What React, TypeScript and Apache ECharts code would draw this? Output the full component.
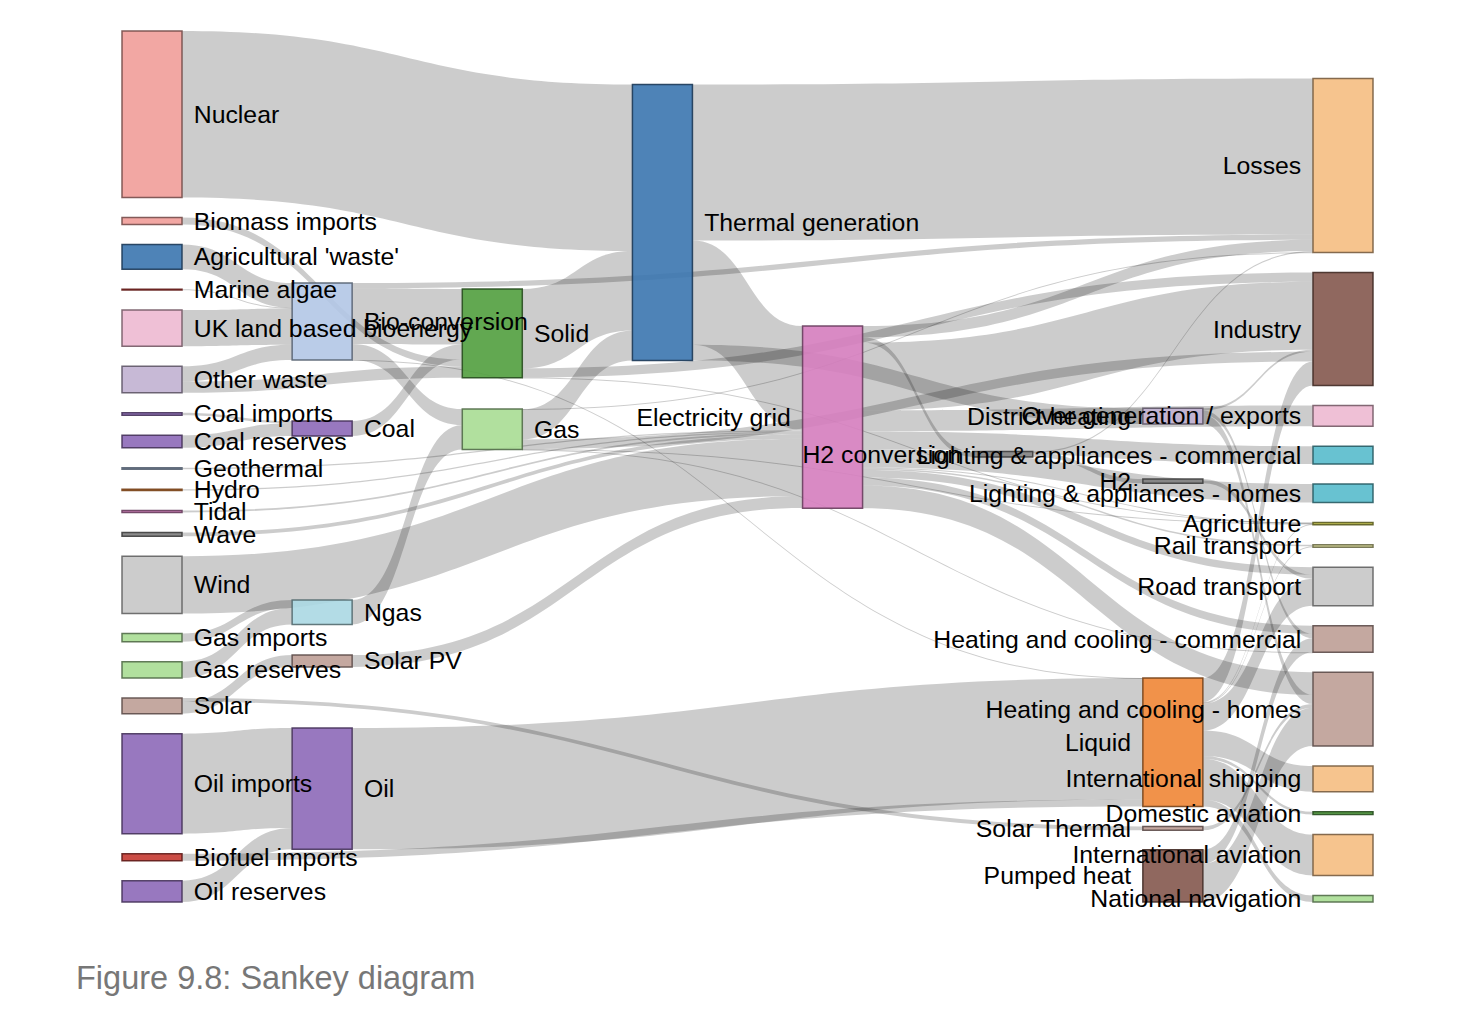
import React, { useEffect, useRef } from "react";
import * as echarts from "echarts";

// ---- data (UK energy flows, TWh) ----
const nodeNames: string[] = [
  "Agricultural 'waste'", "Bio-conversion", "Liquid", "Losses", "Solid", "Gas",
  "Biofuel imports", "Biomass imports", "Coal imports", "Coal", "Coal reserves",
  "District heating", "Industry", "Heating and cooling - commercial",
  "Heating and cooling - homes", "Electricity grid", "Over generation / exports",
  "H2 conversion", "Road transport", "Agriculture", "Rail transport",
  "Lighting & appliances - commercial", "Lighting & appliances - homes",
  "Gas imports", "Ngas", "Gas reserves", "Thermal generation", "Geothermal", "H2",
  "Hydro", "International shipping", "Domestic aviation", "International aviation",
  "National navigation", "Marine algae", "Nuclear", "Oil imports", "Oil",
  "Oil reserves", "Other waste", "Pumped heat", "Solar PV", "Solar Thermal",
  "Solar", "Tidal", "UK land based bioenergy", "Wave", "Wind",
];

// flows: source index -> target index, value
const linkSources: number[] = [
  35, 7, 0, 34, 45, 39, 39, 8, 10, 27, 29, 44, 46, 47, 23, 25, 43, 43, 36, 6, 38,
  26, 26, 26, 1, 1, 1, 1, 9, 24, 41, 37, 4, 4, 4, 5, 5, 5, 5, 5,
  15, 15, 15, 15, 15, 15, 15, 15, 15, 15, 15, 17, 17, 11, 11, 11, 28,
  2, 2, 2, 2, 2, 2, 2, 2, 42, 40, 40,
];
const linkTargets: number[] = [
  26, 4, 1, 1, 1, 1, 4, 9, 9, 15, 15, 15, 15, 15, 24, 24, 41, 42, 37, 2, 37,
  3, 15, 11, 3, 4, 5, 2, 4, 5, 15, 2, 26, 12, 19, 3, 26, 12, 19, 13,
  3, 12, 16, 21, 17, 22, 19, 20, 18, 13, 14, 3, 28, 12, 13, 14, 18,
  12, 19, 20, 18, 30, 31, 32, 33, 14, 13, 14,
];
const linkValues: number[] = [
  839.978, 35, 124.729, 4.375, 182.01, 77.81, 56.587, 11.606, 63.965, 7.013, 6.995,
  9.452, 19.013, 289.366, 40.719, 82.233, 59.901, 19.263, 504.287, 35, 107.703,
  787.129, 525.531, 79.329, 26.862, 280.322, 81.144, 0.597, 75.571, 122.952, 59.901,
  611.99, 400.12, 46.477, 0.882, 1.401, 151.891, 48.58, 2.096, 0.129,
  56.691, 342.165, 104.453, 90.008, 27.14, 93.494, 4.412, 7.863, 37.797, 40.858,
  113.726, 6.242, 20.897, 10.639, 22.505, 46.184, 20.897,
  121.066, 3.64, 4.413, 135.835, 128.69, 14.458, 206.267, 33.218, 19.263, 70.672,
  193.026,
];

const figureTitle = "Figure 9.8: Sankey diagram";

// ---- layout (as drawn in the figure) ----
// column of each node
const nodeColumns: number[] = [
  0, 1, 6, 7, 2, 2, 0, 0, 0, 1, 0, 6, 7, 7, 7, 4, 7, 5, 7, 7, 7, 7, 7, 0, 1, 0, 3, 0, 6,
  0, 7, 7, 7, 7, 0, 0, 0, 1, 0, 0, 6, 1, 6, 0, 0, 0, 0, 0,
];
// top edge of each node on the page (px)
const nodeTops: number[] = [
  244.5, 283, 678, 78.45, 289, 409, 853.7, 217.56, 412.84, 421, 435.14, 408.3, 272.62,
  625.72, 672.32, 326, 405.43, 451.5, 567.15, 522.53, 544.72, 446.14, 483.99, 633.62,
  600, 661.69, 84.5, 467.82, 479, 489.21, 766.12, 811.64, 834.51, 895.41, 289.23, 31,
  733.7, 728, 880.64, 366.19, 849.7, 655, 826.5, 698, 510.6, 310.1, 532.47, 556.24,
];
// stacking order used for ordering the flows at each node
const stackOrder: string[] = [
  "Nuclear", "Geothermal", "Hydro", "Tidal", "Wave", "Wind", "Biomass imports",
  "Agricultural 'waste'", "Marine algae", "UK land based bioenergy", "Other waste",
  "Coal imports", "Coal reserves", "Gas imports", "Gas reserves", "Solar", "Oil imports",
  "Biofuel imports", "Oil reserves",
  "Bio-conversion", "Ngas", "Coal", "Oil", "Solar PV",
  "Solid", "Gas", "Thermal generation", "Electricity grid", "H2 conversion",
  "District heating", "H2", "Solar Thermal", "Pumped heat", "Liquid",
  "Losses", "Industry", "Over generation / exports", "Lighting & appliances - commercial",
  "Lighting & appliances - homes", "Agriculture", "Rail transport", "Road transport",
  "Heating and cooling - commercial", "Heating and cooling - homes",
  "International shipping", "Domestic aviation", "International aviation",
  "National navigation",
];

const LEFT = 122;
const TOP = 31;
const WIDTH = 1251;
const HEIGHT = 871;

// ---- styling ----
const category20 = [
  "#1f77b4", "#aec7e8", "#ff7f0e", "#ffbb78", "#2ca02c", "#98df8a", "#d62728", "#ff9896",
  "#9467bd", "#c5b0d5", "#8c564b", "#c49c94", "#e377c2", "#f7b6d2", "#7f7f7f", "#c7c7c7",
  "#bcbd22", "#dbdb8d", "#17becf", "#9edae5",
];

function hexToRgb(hex: string): number[] {
  const n = parseInt(hex.slice(1), 16);
  return [(n >> 16) & 255, (n >> 8) & 255, n & 255];
}
const toLin = (c: number) => {
  const v = c / 255;
  return v <= 0.04045 ? v / 12.92 : Math.pow((v + 0.055) / 1.055, 2.4);
};
const fromLin = (v: number) => {
  const x = Math.max(0, Math.min(1, v));
  const s = x <= 0.0031308 ? x * 12.92 : 1.055 * Math.pow(x, 1 / 2.4) - 0.055;
  return Math.round(s * 255);
};
// tone matching of the reference rendering (display-P3 encoded screenshot)
function tone(rgb: number[]): string {
  const [r, g, b] = rgb.map(toLin);
  const R = 0.8224621 * r + 0.177538 * g;
  const G = 0.0331941 * r + 0.9668058 * g;
  const B = 0.0170827 * r + 0.0723974 * g + 0.9105199 * b;
  return `rgb(${fromLin(R)},${fromLin(G)},${fromLin(B)})`;
}
function darker(rgb: number[], k: number): number[] {
  const f = Math.pow(0.7, k);
  return rgb.map((c) => Math.round(c * f));
}

const FONT = "'Liberation Sans', Arial, Helvetica, sans-serif";

export default function App() {
  const ref = useRef<HTMLDivElement>(null);

  useEffect(() => {
    if (!ref.current) return;
    const chart = echarts.init(ref.current, undefined, { renderer: "svg" });

    // colour by the first word of the node name, cycling through category20
    const domain: string[] = [];
    const colorOf = (name: string) => {
      const key = name.replace(/ .*/, "");
      let i = domain.indexOf(key);
      if (i < 0) {
        domain.push(key);
        i = domain.length - 1;
      }
      return category20[i % category20.length];
    };
    const colors = nodeNames.map(colorOf);

    const maxCol = Math.max(...nodeColumns);
    const nodes = stackOrder.map((name) => {
      const i = nodeNames.indexOf(name);
      const rgb = hexToRgb(colors[i]);
      const rightSide = nodeColumns[i] > maxCol / 2;
      return {
        name,
        depth: nodeColumns[i],
        localY: (nodeTops[i] - TOP) / HEIGHT,
        itemStyle: {
          color: tone(rgb),
          borderColor: tone(darker(rgb, 2)),
          borderWidth: 1.5,
          opacity: 0.9,
        },
        label: { position: rightSide ? "left" : "right" },
      };
    });

    const links = linkValues.map((v, i) => ({
      source: nodeNames[linkSources[i]],
      target: nodeNames[linkTargets[i]],
      value: v,
    }));

    chart.setOption({
      animation: false,
      title: {
        text: figureTitle,
        left: 76,
        top: 961,
        padding: 0,
        textStyle: { color: "#777777", fontSize: 32.5, fontWeight: "normal", fontFamily: FONT },
      },
      series: [
        {
          type: "sankey",
          left: LEFT,
          top: TOP,
          width: WIDTH,
          height: HEIGHT,
          nodeWidth: 60,
          nodeGap: 20,
          nodeAlign: "left",
          layoutIterations: 0,
          draggable: false,
          emphasis: { disabled: true },
          data: nodes,
          links,
          label: {
            color: "#000",
            fontSize: 24.8,
            fontFamily: FONT,
            distance: 11,
          },
          lineStyle: { color: "#000", opacity: 0.2, curveness: 0.5 },
        },
      ],
    });

    return () => chart.dispose();
  }, []);

  return (
    <div
      ref={ref}
      style={{ position: "absolute", left: 0, top: 0, width: 1476, height: 1016 }}
    />
  );
}
